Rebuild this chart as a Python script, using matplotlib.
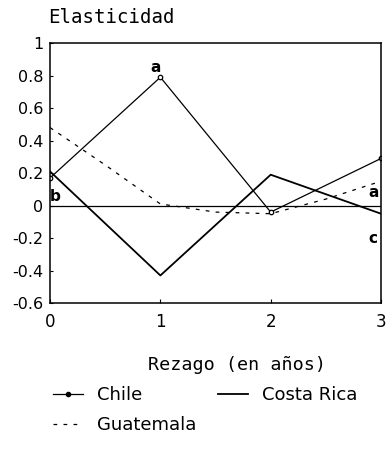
import matplotlib.pyplot as plt

rezago = [0, 1, 2, 3]
chile = [0.17, 0.79, -0.04, 0.29]
costa_rica = [0.21, -0.43, 0.19, -0.05]
guate_x = [0, 0.5, 1, 1.5, 2, 2.5, 3]
guatemala = [0.48, 0.25, 0.01, -0.04, -0.05, 0.04, 0.15]

yticks = [-0.6, -0.4, -0.2, 0, 0.2, 0.4, 0.6, 0.8, 1]
ytick_labels = ['-0.6', '-0.4', '-0.2', '0', '0.2', '0.4', '0.6', '0.8', '1']

notas = [('a', 0.955, 0.85), ('b', 0.05, 0.055), ('a', 2.93, 0.08), ('c', 2.93, -0.2)]

fig = plt.figure(figsize=(3.88, 4.49), dpi=100)
ax = fig.add_axes([0.129, 0.325, 0.853, 0.579])

l1, = ax.plot(rezago, chile, color='black', linewidth=0.9, marker='o', markersize=3.2,
              markerfacecolor='white', markeredgewidth=0.9, label='Chile')
l2, = ax.plot(rezago, costa_rica, color='black', linewidth=1.3, label='Costa Rica')
l3, = ax.plot(guate_x, guatemala, color='black', linewidth=0.9, linestyle=(0, (3, 5)),
              label='Guatemala')
ax.axhline(0, color='black', linewidth=0.9)

for txt, x, y in notas:
    ax.text(x, y, txt, fontsize=11, fontweight='bold', ha='center', va='center',
            family='DejaVu Sans')

ax.set_xlim(0, 3)
ax.set_ylim(-0.6, 1)
ax.set_xticks(rezago)
ax.set_xticklabels(['0', '1', '2', '3'], fontsize=12, family='DejaVu Sans')
ax.set_yticks(yticks)
ax.set_yticklabels(ytick_labels, fontsize=11.5, family='DejaVu Sans')
ax.tick_params(axis='x', direction='in', length=3, width=0.8, pad=7)
ax.tick_params(axis='y', direction='in', length=2, width=0.8, pad=5)
for s in ax.spines.values():
    s.set_linewidth(1.1)

fig.text(0.124, 0.96, 'Elasticidad', fontsize=13.7, family='DejaVu Sans Mono', va='center')
fig.text(0.611, 0.187, 'Rezago (en años)', fontsize=13.2, family='DejaVu Sans Mono',
         ha='center', va='center')

l1_leg, = plt.plot([], [], color='black', linewidth=0.9, marker='o', markersize=3,
                   markerfacecolor='black', label='Chile')
fig.legend(handles=[l1_leg, l3, l2], labels=['Chile', 'Guatemala', 'Costa Rica'],
           loc='upper left', bbox_to_anchor=(0.137, 0.14), ncol=2, frameon=False,
           handlelength=1.67, columnspacing=1.17, labelspacing=0.65,
           handletextpad=0.78, borderpad=0, borderaxespad=0,
           prop={'family': 'DejaVu Sans', 'size': 13})

plt.savefig('out.png', dpi=100)
